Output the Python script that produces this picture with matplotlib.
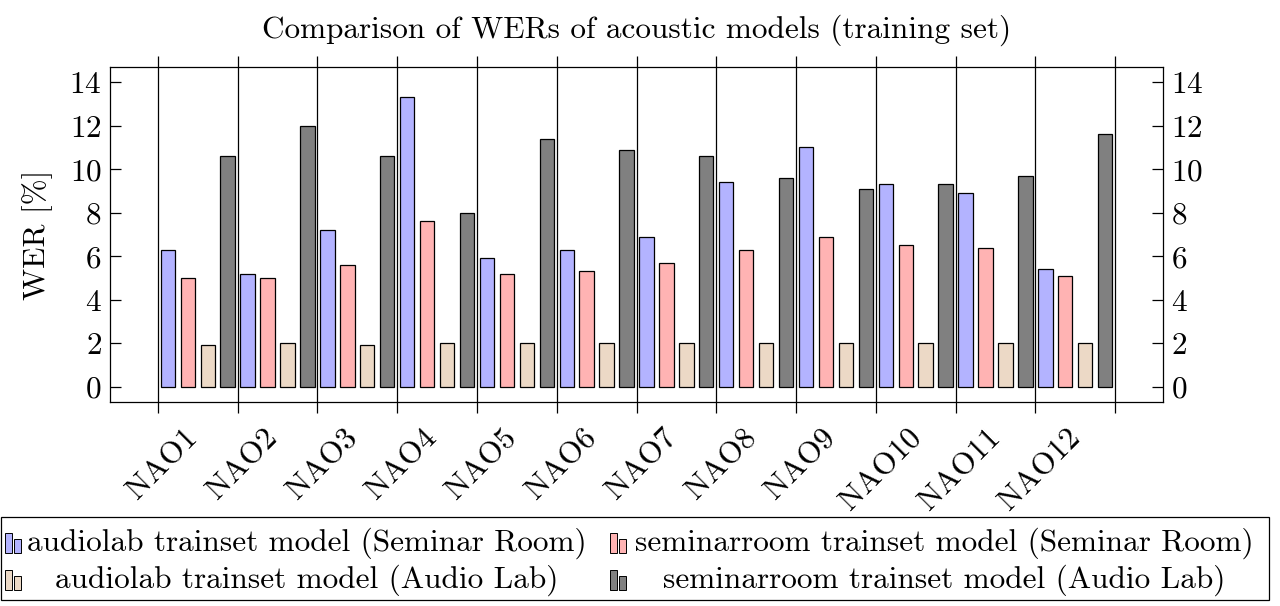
import numpy as np
import matplotlib
matplotlib.use("Agg")
import matplotlib.pyplot as plt
import matplotlib.transforms as mtransforms
from matplotlib.patches import Rectangle

plt.rcParams['font.family'] = ['cmr10', 'DejaVu Serif']
plt.rcParams['axes.formatter.use_mathtext'] = True

# data
speakers = ['NAO1', 'NAO2', 'NAO3', 'NAO4', 'NAO5', 'NAO6',
            'NAO7', 'NAO8', 'NAO9', 'NAO10', 'NAO11', 'NAO12']
audiolab_seminar = [6.3, 5.2, 7.2, 13.3, 5.9, 6.3, 6.9, 9.4, 11.0, 9.3, 8.9, 5.4]
seminar_seminar = [5.0, 5.0, 5.6, 7.6, 5.2, 5.3, 5.7, 6.3, 6.9, 6.5, 6.4, 5.1]
audiolab_audiolab = [1.9, 2.0, 1.9, 2.0, 2.0, 2.0, 2.0, 2.0, 2.0, 2.0, 2.0, 2.0]
seminar_audiolab = [10.6, 12.0, 10.6, 8.0, 11.4, 10.9, 10.6, 9.6, 9.1, 9.3, 9.7, 11.6]

series = [
    ('audiolab trainset model (Seminar Room)', audiolab_seminar, '#b3b3ff'),
    ('seminarroom trainset model (Seminar Room)', seminar_seminar, '#ffb3b3'),
    ('audiolab trainset model (Audio Lab)', audiolab_audiolab, '#ecd9c6'),
    ('seminarroom trainset model (Audio Lab)', seminar_audiolab, '#808080'),
]

FS = 22.5
W, H = 1280, 606
fig = plt.figure(figsize=(W / 100, H / 100), dpi=100)
ax = fig.add_axes([110 / W, 1 - 402 / H, (1163 - 110) / W, (402 - 67) / H])

x = np.arange(1, len(speakers) + 1)
width = 0.18
for k, (name, vals, col) in enumerate(series):
    ax.bar(x + 0.125 + 0.25 * k, vals, width=width, color=col,
           edgecolor='black', linewidth=0.9, zorder=3)

# vertical separators sticking out of the frame
ax.vlines(np.arange(1, len(speakers) + 2), -0.033, 1.033,
          transform=ax.get_xaxis_transform(), color='black', lw=0.9,
          clip_on=False, zorder=2)

ax.set_xlim(0.4, 13.6)
ax.set_ylim(-0.7, 14.7)
ax.set_xticks(x)
ax.set_xticklabels(speakers, rotation=45, ha='center', va='top', fontsize=FS)
ax.tick_params(axis='x', length=0, pad=14)
shift = mtransforms.ScaledTranslation(5 / 100, -2 / 100, fig.dpi_scale_trans)
for lab in ax.get_xticklabels():
    lab.set_transform(lab.get_transform() + shift)
ax.set_yticks(np.arange(0, 15, 2))
ax.tick_params(axis='y', direction='in', length=8, width=0.9, labelsize=FS,
               left=True, right=True, labelleft=True, labelright=True, pad=6)
for s in ax.spines.values():
    s.set_linewidth(0.9)
ax.set_ylabel('WER [%]', fontsize=FS, labelpad=12)
ax.set_title('Comparison of WERs of acoustic models (training set)',
             fontsize=FS, pad=21)

# legend box drawn by hand (two columns, centred entries)
def fx(px):
    return px / W

def fy(py):
    return 1 - py / H

fig.patches.append(Rectangle((fx(1), fy(600)), fx(1269) - fx(1), fy(517) - fy(600),
                             transform=fig.transFigure, fill=False,
                             edgecolor='black', lw=0.9))
icon_x = [5, 610, 5, 610]
text_x = [307, 944, 307, 944]
row_y = [543, 580]
for k, (name, vals, col) in enumerate(series):
    cy = row_y[k // 2]
    ix = icon_x[k]
    bottom = cy + 10
    fig.patches.append(Rectangle((fx(ix), fy(bottom)), fx(7), fy(0) - fy(20),
                                 transform=fig.transFigure, facecolor=col,
                                 edgecolor='black', lw=0.7))
    fig.patches.append(Rectangle((fx(ix + 9), fy(bottom)), fx(7), fy(0) - fy(14),
                                 transform=fig.transFigure, facecolor=col,
                                 edgecolor='black', lw=0.7))
    fig.text(fx(text_x[k]), fy(cy), name, ha='center', va='center', fontsize=FS)

fig.savefig('out.png', dpi=100)
